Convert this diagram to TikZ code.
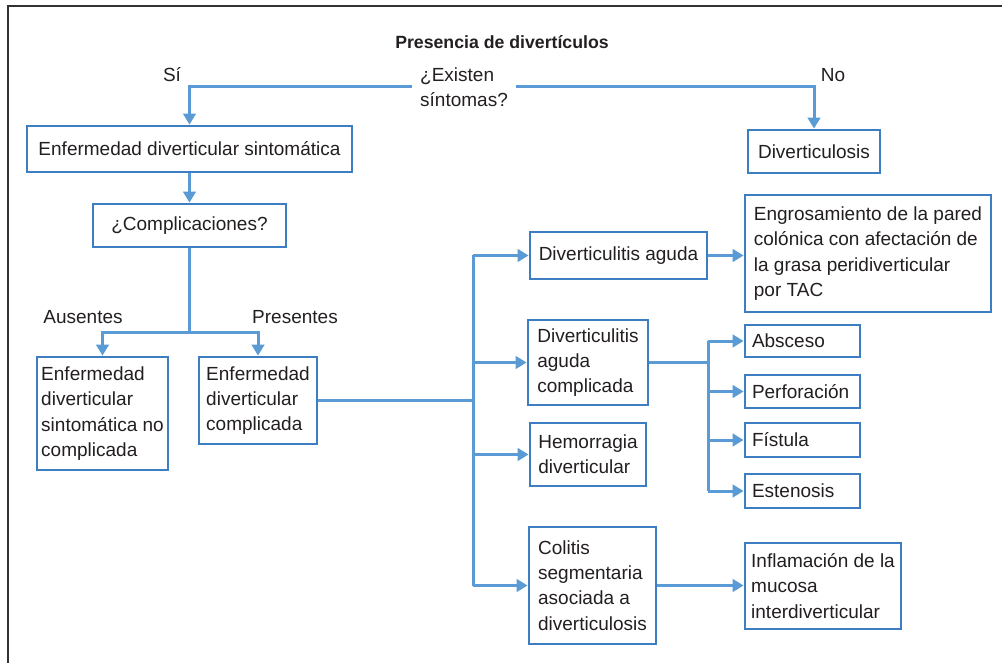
\documentclass[tikz,border=0pt]{standalone}
\usepackage{fontspec}
\setmainfont{Liberation Sans}
\usetikzlibrary{arrows.meta}
\definecolor{boxc}{HTML}{3D7DC2}
\definecolor{linec}{HTML}{5B9BD5}
\definecolor{txt}{HTML}{231F20}
\newcommand\bodyfs{\fontsize{19}{25.3}\selectfont}
\begin{document}
\begin{tikzpicture}[x=1pt,y=-1pt,
  bx/.style={draw=boxc, line width=2.8pt, fill=white, text=txt, font=\bodyfs, align=left, inner xsep=2pt, inner ysep=0pt},
  lbx/.style={bx, inner xsep=7pt},
  lbl/.style={text=txt, font=\bodyfs, inner sep=0pt},
  ln/.style={draw=linec, line width=3pt},
  arr/.style={ln, -{Triangle[length=11pt,width=12.5pt]}}]
\useasboundingbox (0,0) rectangle (1002,663);
\draw[draw=black!80, line width=2.6pt] (8,663) -- (8,6) -- (1002,6);

% title and labels
\node[text=txt, font=\bfseries\fontsize{17.7}{22}\selectfont, inner sep=0pt] (title) at (502,42) {Presencia de divertículos};
\node[lbl] (si) at (172,75) {Sí};
\node[lbl] (no) at (833,75) {No};
\node[lbl, align=left, inner xsep=8pt, anchor=west] (q) at (412,87) {¿Existen\\síntomas?};
\node[lbl] (aus) at (83,317) {Ausentes};
\node[lbl] (pres) at (295,317) {Presentes};

% boxes
\node[bx, minimum width=325pt, minimum height=46pt] (sint) at (189.5,149) {Enfermedad diverticular sintomática};
\node[bx, minimum width=132pt, minimum height=43pt] (dlosis) at (814,151.5) {Diverticulosis};
\node[bx, minimum width=193pt, minimum height=43pt] (compl) at (189.5,225.5) {¿Complicaciones?};
\node[bx, minimum width=131pt, minimum height=113pt] (nocomp) at (102.5,413.5) {Enfermedad\\diverticular\\sintomática no\\complicada};
\node[bx, minimum width=118pt, minimum height=87pt] (comp) at (258,400.5) {Enfermedad\\diverticular\\complicada};
\node[bx, minimum width=177pt, minimum height=47pt] (da) at (618.5,255.5) {Diverticulitis aguda};
\node[bx, minimum width=120pt, minimum height=85pt] (dac) at (588,362.5) {Diverticulitis\\aguda\\complicada};
\node[bx, minimum width=116pt, minimum height=63pt] (hem) at (588,454.5) {Hemorragia\\diverticular};
\node[bx, minimum width=127pt, minimum height=117pt] (col) at (592.5,585.5) {Colitis\\segmentaria\\asociada a\\diverticulosis};
\node[bx, minimum width=246pt, minimum height=117pt] (engr) at (868,253.5) {Engrosamiento de la pared\\colónica con afectación de\\la grasa peridiverticular\\por TAC};
\node[lbx, text width=101pt, minimum height=32pt] (abs) at (802.5,341) {Absceso};
\node[lbx, text width=101pt, minimum height=33pt] (perf) at (802.5,391.5) {Perforación};
\node[lbx, text width=101pt, minimum height=34pt] (fist) at (802.5,440) {Fístula};
\node[lbx, text width=101pt, minimum height=34pt] (est) at (802.5,491) {Estenosis};
\node[bx, minimum width=156pt, minimum height=86pt] (infl) at (823,586) {Inflamación de la\\mucosa\\interdiverticular};

% connectors
\draw[arr] (q.west) -| (sint.north);
\draw[arr] (q.east) -| (dlosis.north);
\draw[arr] (sint.south) -- (compl.north);
\coordinate (j1) at (189.5,332);
\draw[ln] (compl.south) -- (j1);
\draw[arr] (j1) -| (nocomp.north);
\draw[arr] (j1) -| (comp.north);

\coordinate (bx) at (473,0);
\draw[ln] (comp.east) -- (comp.east -| bx);
\draw[ln] (da.west -| bx) -- (col.west -| bx);
\draw[arr] (da.west -| bx) -- (da.west);
\draw[arr] (dac.west -| bx) -- (dac.west);
\draw[arr] (hem.west -| bx) -- (hem.west);
\draw[arr] (col.west -| bx) -- (col.west);

\draw[arr] (da.east) -- (da.east -| engr.west);

\coordinate (bx2) at (708,0);
\draw[ln] (dac.east) -- (dac.east -| bx2);
\draw[ln] (abs.west -| bx2) -- (est.west -| bx2);
\draw[arr] (abs.west -| bx2) -- (abs.west);
\draw[arr] (perf.west -| bx2) -- (perf.west);
\draw[arr] (fist.west -| bx2) -- (fist.west);
\draw[arr] (est.west -| bx2) -- (est.west);

\draw[arr] (col.east) -- (col.east -| infl.west);
\end{tikzpicture}
\end{document}
